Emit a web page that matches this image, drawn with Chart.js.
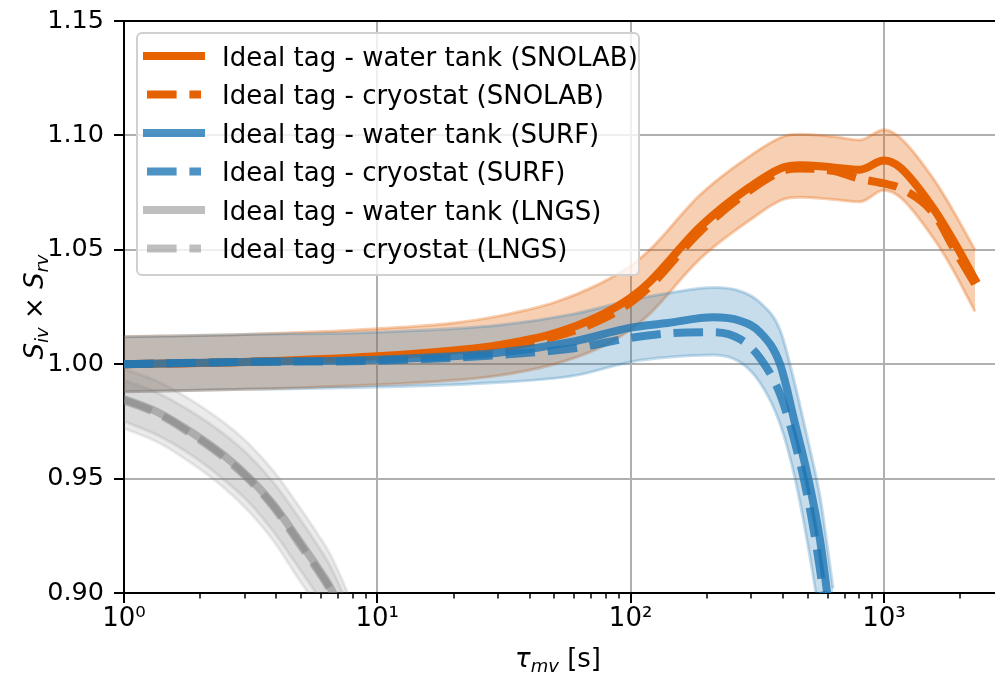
<!DOCTYPE html>
<html>
<head>
<meta charset="utf-8">
<script src="https://cdn.jsdelivr.net/npm/chart.js@4.4.1/dist/chart.umd.min.js"></script>
<style>
  html, body { margin: 0; padding: 0; background: #fff; }
  #wrap { width: 995px; height: 674px; }
</style>
</head>
<body>
<div id="wrap"><canvas id="survival" width="995" height="674"></canvas></div>
<script>
// mean lifetime grid (s) and survival products, one block per site
const tauSnolab   = [1, 3, 10, 20, 30, 50, 75, 100, 119, 188, 296, 400, 466, 630, 805, 1000, 1158, 1570, 1880, 2290];
const snolabWater = [1.000, 1.001, 1.0035, 1.006, 1.0083, 1.0135, 1.021, 1.029, 1.036, 1.060, 1.0775, 1.086, 1.087, 1.086, 1.085, 1.089, 1.086, 1.068, 1.054, 1.037];
const snolabCryo  = [1.000, 1.001, 1.0028, 1.005, 1.007, 1.012, 1.019, 1.027, 1.034, 1.058, 1.076, 1.0845, 1.0855, 1.0845, 1.081, 1.079, 1.077, 1.066, 1.051, 1.035];
const snolabUpper = [1.012, 1.013, 1.0155, 1.018, 1.021, 1.027, 1.035, 1.043, 1.050, 1.074, 1.091, 1.0995, 1.1005, 1.0995, 1.098, 1.1025, 1.099, 1.081, 1.067, 1.050];
const snolabLower = [0.988, 0.989, 0.991, 0.993, 0.995, 1.000, 1.007, 1.015, 1.022, 1.046, 1.063, 1.072, 1.073, 1.072, 1.071, 1.076, 1.073, 1.055, 1.041, 1.023];

const tauSurf   = [1, 3, 10, 30, 60, 100, 140, 212, 270, 324, 389, 446, 503, 560, 597, 630];
const surfWater = [1.000, 1.001, 1.002, 1.005, 1.010, 1.016, 1.018, 1.0205, 1.019, 1.014, 1.000, 0.974, 0.950, 0.923, 0.900, 0.880];
const surfCryo  = [1.000, 1.001, 1.0015, 1.004, 1.007, 1.0115, 1.0135, 1.014, 1.011, 1.0028, 0.987, 0.9655, 0.9405, 0.910, 0.887, 0.868];
const surfUpper = [1.012, 1.013, 1.014, 1.017, 1.022, 1.028, 1.031, 1.0335, 1.032, 1.027, 1.015, 0.991, 0.966, 0.942, 0.921, 0.902];
const surfLower = [0.988, 0.989, 0.990, 0.992, 0.995, 1.001, 1.003, 1.004, 1.001, 0.992, 0.974, 0.950, 0.920, 0.888, 0.866, 0.846];

const tauLngs        = [1, 1.354, 1.83, 2.48, 3.12, 3.91, 4.83, 5.80, 6.55, 8];
const lngsWater      = [0.9848, 0.9791, 0.9705, 0.9601, 0.9503, 0.9383, 0.9241, 0.9113, 0.9020, 0.881];
const lngsCryo       = [0.9842, 0.9784, 0.9697, 0.9593, 0.9495, 0.9374, 0.9229, 0.9101, 0.9008, 0.879];
const lngsWaterUpper = [0.998, 0.9925, 0.9845, 0.9745, 0.965, 0.953, 0.939, 0.926, 0.9165, 0.895];
const lngsWaterLower = [0.972, 0.966, 0.957, 0.946, 0.9355, 0.9225, 0.907, 0.894, 0.884, 0.864];
const lngsCryoUpper  = [0.993, 0.9875, 0.9795, 0.9695, 0.960, 0.948, 0.934, 0.921, 0.9115, 0.890];
const lngsCryoLower  = [0.975, 0.969, 0.9605, 0.9495, 0.9395, 0.9265, 0.912, 0.899, 0.889, 0.868];

const yTicks = [0.90, 0.95, 1.00, 1.05, 1.10, 1.15];
const xDecades = [1, 10, 100, 1000];
const supDigits = ['\u2070', '\u00b9', '\u00b2', '\u00b3'];

const ORANGE = '#e66100';
const ORANGE_BAND = 'rgba(230, 97, 0, 0.3)';
const BLUE = 'rgba(31, 119, 180, 0.8)';
const BLUE_BAND = 'rgba(31, 119, 180, 0.25)';
const GREY = 'rgba(128, 128, 128, 0.5)';
const GREY_BAND = 'rgba(128, 128, 128, 0.16)';
const FONT = '"DejaVu Sans", sans-serif';

const pts = (tau, vals) => tau.map((t, i) => ({ x: t, y: vals[i] }));
const isDecade = v => Math.abs(Math.log10(v) - Math.round(Math.log10(v))) < 1e-9;

function bandEdge(tau, vals, color, fillNext) {
    return {
        label: '',
        data: pts(tau, vals),
        borderColor: color,
        backgroundColor: color,
        borderWidth: 3,
        fill: fillNext ? '+1' : false,
        pointRadius: 0,
        cubicInterpolationMode: 'monotone',
        clip: 0
    };
}

function curve(label, tau, vals, color, dashed) {
    return {
        label: label,
        data: pts(tau, vals),
        borderColor: color,
        backgroundColor: color,
        borderWidth: 8,
        borderDash: dashed ? [29.6, 12.8] : [],
        borderCapStyle: dashed ? 'butt' : 'square',
        borderJoinStyle: 'round',
        fill: false,
        pointRadius: 0,
        cubicInterpolationMode: 'monotone',
        clip: 0
    };
}

const datasets = [
    bandEdge(tauSnolab, snolabUpper, ORANGE_BAND, true),
    bandEdge(tauSnolab, snolabLower, ORANGE_BAND, false),
    bandEdge(tauSurf, surfUpper, BLUE_BAND, true),
    bandEdge(tauSurf, surfLower, BLUE_BAND, false),
    bandEdge(tauLngs, lngsWaterUpper, GREY_BAND, true),
    bandEdge(tauLngs, lngsWaterLower, GREY_BAND, false),
    bandEdge(tauLngs, lngsCryoUpper, GREY_BAND, true),
    bandEdge(tauLngs, lngsCryoLower, GREY_BAND, false),
    curve('Ideal tag - water tank (SNOLAB)', tauSnolab, snolabWater, ORANGE, false),
    curve('Ideal tag - cryostat (SNOLAB)', tauSnolab, snolabCryo, ORANGE, true),
    curve('Ideal tag - water tank (SURF)', tauSurf, surfWater, BLUE, false),
    curve('Ideal tag - cryostat (SURF)', tauSurf, surfCryo, BLUE, true),
    curve('Ideal tag - water tank (LNGS)', tauLngs, lngsWater, GREY, false),
    curve('Ideal tag - cryostat (LNGS)', tauLngs, lngsCryo, GREY, true)
];
// later entries are painted on top
datasets.forEach((d, i) => { d.order = datasets.length - i; });

function drawRich(ctx, parts) {
    let total = 0;
    parts.forEach(p => {
        ctx.font = (p.italic ? 'italic ' : '') + p.size + 'px ' + FONT;
        p.w = ctx.measureText(p.text).width;
        total += p.w;
    });
    let x = -total / 2;
    parts.forEach(p => {
        ctx.font = (p.italic ? 'italic ' : '') + p.size + 'px ' + FONT;
        ctx.fillText(p.text, x, p.dy || 0);
        x += p.w;
    });
}

const decorations = {
    id: 'decorations',
    afterDraw(chart) {
        const { ctx, chartArea: a, scales: { x, y } } = chart;
        ctx.save();
        ctx.strokeStyle = '#000';
        ctx.fillStyle = '#000';

        // top spine
        ctx.lineWidth = 2;
        ctx.beginPath();
        ctx.moveTo(a.left - 1, a.top);
        ctx.lineTo(a.right, a.top);
        ctx.stroke();

        // x ticks: majors at decades, minors at 2..9
        x.ticks.forEach(t => {
            const v = t.value;
            const sig = v / Math.pow(10, Math.floor(Math.log10(v) + 1e-9));
            if (Math.abs(sig - Math.round(sig)) > 1e-6) return;
            const px = Math.round(x.getPixelForValue(v));
            const major = isDecade(v);
            ctx.lineWidth = major ? 2 : 1.5;
            ctx.beginPath();
            ctx.moveTo(px, a.bottom);
            ctx.lineTo(px, a.bottom + (major ? 10 : 5.5));
            ctx.stroke();
        });
        ctx.lineWidth = 2;
        yTicks.forEach(v => {
            const py = Math.round(y.getPixelForValue(v));
            ctx.beginPath();
            ctx.moveTo(a.left - 10, py);
            ctx.lineTo(a.left, py);
            ctx.stroke();
        });

        // axis titles
        ctx.textBaseline = 'alphabetic';
        ctx.textAlign = 'left';
        ctx.save();
        ctx.translate(558, 667);
        drawRich(ctx, [
            { text: '\u03c4', size: 26, italic: true },
            { text: 'mv', size: 18, italic: true, dy: 5 },
            { text: ' [s]', size: 26 }
        ]);
        ctx.restore();
        ctx.save();
        ctx.translate(34, (a.top + a.bottom) / 2);
        ctx.rotate(-Math.PI / 2);
        ctx.translate(0, 9);
        drawRich(ctx, [
            { text: 'S', size: 26, italic: true },
            { text: 'iv', size: 18, italic: true, dy: 5 },
            { text: ' \u00d7 ', size: 26 },
            { text: 'S', size: 26, italic: true },
            { text: 'rv', size: 18, italic: true, dy: 5 }
        ]);
        ctx.restore();

        // legend
        ctx.beginPath();
        ctx.roundRect(137, 33, 502, 242, 5);
        ctx.fillStyle = 'rgba(255, 255, 255, 0.8)';
        ctx.fill();
        ctx.lineWidth = 2;
        ctx.strokeStyle = '#d0d0d0';
        ctx.stroke();
        const entries = chart.data.datasets.filter(d => d.label);
        entries.forEach((d, i) => {
            const ry = 56 + i * 38.5;
            ctx.strokeStyle = d.borderColor;
            ctx.lineWidth = d.borderWidth;
            ctx.lineCap = d.borderCapStyle;
            ctx.setLineDash(d.borderDash);
            ctx.beginPath();
            ctx.moveTo(147, ry);
            ctx.lineTo(201, ry);
            ctx.stroke();
            ctx.setLineDash([]);
            ctx.fillStyle = '#000';
            ctx.font = '26px ' + FONT;
            ctx.fillText(d.label, 222, ry + 9.5);
        });
        ctx.restore();
    }
};

new Chart(document.getElementById('survival'), {
    type: 'line',
    data: { datasets: datasets },
    options: {
        responsive: false,
        devicePixelRatio: 1,
        animation: false,
        layout: { padding: { top: 21, right: 0, bottom: 0, left: 0 } },
        plugins: {
            legend: { display: false },
            tooltip: { enabled: false },
            filler: { propagate: false }
        },
        scales: {
            x: {
                type: 'logarithmic',
                min: xDecades[0],
                max: 2746,
                afterFit(s) {
                    s.height = 81;
                    s.paddingLeft = 0;
                    s.paddingRight = 0;
                },
                grid: {
                    drawTicks: false,
                    lineWidth: 2,
                    color: c => (c.tick && isDecade(c.tick.value)) ? '#b0b0b0' : 'rgba(0,0,0,0)'
                },
                border: { display: true, color: '#000', width: 2 },
                ticks: {
                    autoSkip: false,
                    maxRotation: 0,
                    padding: 11,
                    color: '#000',
                    font: { family: 'DejaVu Sans', size: 26 },
                    callback: v => xDecades.includes(v) ? '10' + supDigits[xDecades.indexOf(v)] : ''
                }
            },
            y: {
                type: 'linear',
                min: yTicks[0],
                max: yTicks[yTicks.length - 1],
                afterFit(s) {
                    s.width = 124;
                    s.paddingTop = 0;
                    s.paddingBottom = 0;
                },
                afterBuildTicks(s) { s.ticks = yTicks.map(v => ({ value: v })); },
                grid: { drawTicks: false, lineWidth: 2, color: '#b0b0b0' },
                border: { display: true, color: '#000', width: 2 },
                ticks: {
                    padding: 20,
                    color: '#000',
                    font: { family: 'DejaVu Sans', size: 25.5 },
                    callback: v => v.toFixed(2)
                }
            }
        }
    },
    plugins: [decorations]
});
</script>
</body>
</html>
